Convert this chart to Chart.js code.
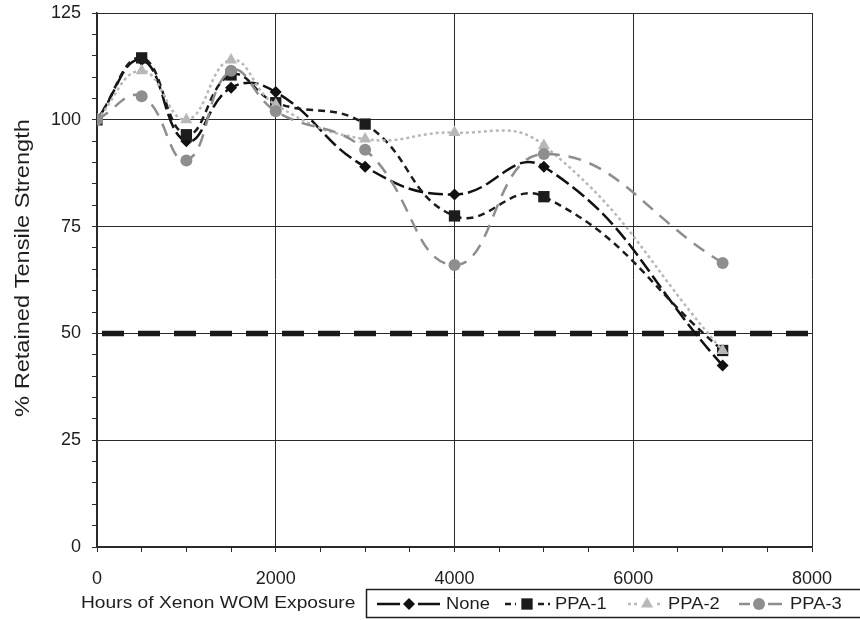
<!DOCTYPE html>
<html lang="en">
<head>
    <meta charset="UTF-8">
    <title>Retained Tensile Strength</title>
    <script src="https://cdn.jsdelivr.net/npm/chart.js"></script>
    <style>
        html, body {
            margin: 0;
            padding: 0;
            background: #ffffff;
        }
        .chart-box {
            position: relative;
            width: 860px;
            height: 620px;
        }
    </style>
</head>
<body>
    <div class="chart-box">
        <canvas id="tensileChart"></canvas>
    </div>

    <script>
        // Exposure hours and % retained tensile strength per additive
        const hours = [0, 500, 1000, 1500, 2000, 3000, 4000, 5000, 7000];
        const noneValues = [100, 114, 95, 107.5, 106.5, 89, 82.5, 89, 42.5];
        const ppa1Values = [100, 114.5, 96.5, 110.5, 104, 99, 77.5, 82, 46];
        const ppa2Values = [100, 111.5, 100, 114, 103.5, 95.5, 97, 94, 46];
        const ppa3Values = [100, 105.5, 90.5, 111.5, 102, 93, 66, 92, 66.5];

        // 50% failure threshold
        const limitHours = [0, 8000];
        const limitValues = [50, 50];

        const seriesNames = ['None', 'PPA-1', 'PPA-2', 'PPA-3'];
        const xTickLabels = [0, 2000, 4000, 6000, 8000];
        const yTickLabels = [0, 25, 50, 75, 100, 125];

        const FONT = '"Liberation Sans", Arial, sans-serif';
        const INK = '#1e1e1e';
        const GRID = '#2a2a2a';

        function toPoints(xs, ys) {
            return xs.map((x, i) => ({ x: x, y: ys[i] }));
        }

        // legendDash: pattern for the short sample segments in the legend
        const styles = [
            { color: '#111111', dash: [15, 5], legendDash: [], pointStyle: 'rectRot', radius: 6 },
            { color: '#1c1c1c', dash: [7, 5], legendDash: [6, 4], pointStyle: 'rect', radius: 8 },
            { color: '#b8b8b8', dash: [3, 3], legendDash: [3, 3], pointStyle: 'triangle', radius: 7 },
            { color: '#8e8e8e', dash: [13, 9], legendDash: [], pointStyle: 'circle', radius: 6 }
        ];
        const seriesValues = [noneValues, ppa1Values, ppa2Values, ppa3Values];

        const datasets = seriesNames.map((name, i) => ({
            label: name,
            data: toPoints(hours, seriesValues[i]),
            borderColor: styles[i].color,
            backgroundColor: styles[i].color,
            borderWidth: 2.5,
            borderDash: styles[i].dash,
            pointStyle: styles[i].pointStyle,
            pointRadius: styles[i].radius,
            pointBorderWidth: 0,
            pointBackgroundColor: styles[i].color,
            tension: 0.45,
            fill: false,
            order: 4 - i
        }));

        datasets.push({
            label: '50%',
            data: toPoints(limitHours, limitValues),
            borderColor: '#1a1a1a',
            borderWidth: 5.5,
            borderDash: [22, 14],
            borderDashOffset: 31,
            pointRadius: 0,
            tension: 0,
            fill: false,
            order: 10
        });

        // text drawn with a slight horizontal stretch
        function stretchedText(ctx, text, x, y, size, stretch, align, angle) {
            ctx.save();
            ctx.translate(x, y);
            if (angle) ctx.rotate(angle);
            ctx.scale(stretch, 1);
            ctx.font = size + 'px ' + FONT;
            ctx.textAlign = align;
            ctx.textBaseline = 'middle';
            ctx.fillStyle = INK;
            ctx.fillText(text, 0, 0);
            ctx.restore();
        }

        // axis titles and the boxed legend beside the x title
        const decorations = {
            id: 'decorations',
            afterDraw(chart) {
                const ctx = chart.ctx;
                ctx.save();

                stretchedText(ctx, 'Hours of Xenon WOM Exposure', 81, 603, 17, 1.13, 'left');
                stretchedText(ctx, '% Retained Tensile Strength', 23, 268, 20, 1.18, 'center', -Math.PI / 2);

                ctx.strokeStyle = INK;
                ctx.lineWidth = 1.5;
                ctx.setLineDash([]);
                ctx.strokeRect(366.5, 589.5, 520, 28);

                const items = [
                    { x0: 377, x1: 440, mark: 409, text: 446 },
                    { x0: 505, x1: 550, mark: 527, text: 555 },
                    { x0: 628, x1: 663, mark: 647, text: 668 },
                    { x0: 739, x1: 782, mark: 759, text: 790 }
                ];
                const ly = 604;
                items.forEach((it, i) => {
                    const st = styles[i];
                    const gap = st.radius + 3;
                    ctx.strokeStyle = st.color;
                    ctx.lineWidth = 2.5;
                    ctx.setLineDash(st.legendDash);
                    ctx.beginPath();
                    ctx.moveTo(it.x0, ly);
                    ctx.lineTo(it.mark - gap, ly);
                    ctx.moveTo(it.mark + gap, ly);
                    ctx.lineTo(it.x1, ly);
                    ctx.stroke();
                    ctx.setLineDash([]);
                    ctx.fillStyle = st.color;
                    Chart.helpers.drawPoint(ctx, {
                        pointStyle: st.pointStyle,
                        radius: st.radius,
                        rotation: 0,
                        borderWidth: 0
                    }, it.mark, ly);
                    stretchedText(ctx, seriesNames[i], it.text, ly, 17, 1.08, 'left');
                });
                ctx.restore();
            }
        };

        const ctx = document.getElementById('tensileChart').getContext('2d');
        new Chart(ctx, {
            type: 'line',
            data: { datasets: datasets },
            options: {
                responsive: true,
                maintainAspectRatio: false,
                animation: false,
                layout: {
                    padding: { top: 13, right: 48, left: 0, bottom: 0 }
                },
                plugins: {
                    legend: { display: false },
                    tooltip: { enabled: false }
                },
                scales: {
                    x: {
                        type: 'linear',
                        min: 0,
                        max: 8000,
                        afterFit: scale => {
                            scale.height = 73;
                            scale.paddingLeft = 0;
                            scale.paddingRight = 0;
                        },
                        ticks: {
                            stepSize: 500,
                            autoSkip: false,
                            maxRotation: 0,
                            padding: 16,
                            color: INK,
                            font: { family: FONT, size: 18 },
                            callback: v => xTickLabels.includes(v) ? String(v) : ''
                        },
                        grid: {
                            color: c => xTickLabels.includes(c.tick.value) ? GRID : 'rgba(0,0,0,0)',
                            tickColor: GRID,
                            tickLength: 5,
                            lineWidth: 1
                        },
                        border: { color: GRID, width: 1.5 }
                    },
                    y: {
                        min: 0,
                        max: 125,
                        afterFit: scale => {
                            scale.width = 97;
                            scale.paddingTop = 0;
                            scale.paddingBottom = 0;
                        },
                        ticks: {
                            stepSize: 5,
                            autoSkip: false,
                            padding: 11,
                            color: INK,
                            font: { family: FONT, size: 18 },
                            callback: v => yTickLabels.includes(v) ? String(v) : ''
                        },
                        grid: {
                            color: c => yTickLabels.includes(c.tick.value) ? GRID : 'rgba(0,0,0,0)',
                            tickColor: GRID,
                            tickLength: 5,
                            lineWidth: 1
                        },
                        border: { color: GRID, width: 1.5 }
                    }
                }
            },
            plugins: [decorations]
        });
    </script>
</body>
</html>
